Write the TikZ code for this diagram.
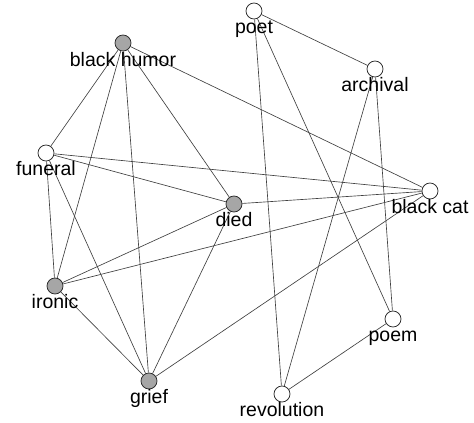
\documentclass[tikz,border=0pt]{standalone}
\usepackage{fontspec}
\setmainfont{Liberation Sans}
\begin{document}
\begin{tikzpicture}[x=1pt,y=-1pt,
  vtx/.style={circle, draw=black!85, line width=0.75pt, minimum size=16pt, inner sep=0pt},
  gv/.style={vtx, fill=black!35},
  wv/.style={vtx, fill=white},
  lbl/.style={anchor=base, font=\fontsize{19.5}{22}\selectfont, text=black, inner sep=0pt},
  edge/.style={draw=black!75, line width=0.65pt}]
\useasboundingbox (0,0) rectangle (474,423);
% vertices
\node[gv] (bh) at (123,43) {};
\node[wv] (po) at (254,11) {};
\node[wv] (ar) at (375,69) {};
\node[wv] (fu) at (46,153) {};
\node[gv] (di) at (234,204) {};
\node[wv] (bc) at (430,191) {};
\node[gv] (ir) at (55,286) {};
\node[wv] (pm) at (393,319) {};
\node[gv] (gr) at (149,381) {};
\node[wv] (re) at (282,394) {};
% edges
\path[edge] (bh) -- (fu);
\path[edge] (bh) -- (ir);
\path[edge] (bh) -- (gr);
\path[edge] (bh) -- (di);
\path[edge] (bh) -- (bc);
\path[edge] (fu) -- (di);
\path[edge] (fu) -- (bc);
\path[edge] (fu) -- (ir);
\path[edge] (fu) -- (gr);
\path[edge] (ir) -- (di);
\path[edge] (ir) -- (bc);
\path[edge] (ir) -- (gr);
\path[edge] (gr) -- (di);
\path[edge] (gr) -- (bc);
\path[edge] (di) -- (bc);
\path[edge] (po) -- (ar);
\path[edge] (po) -- (re);
\path[edge] (po) -- (pm);
\path[edge] (ar) -- (re);
\path[edge] (ar) -- (pm);
\path[edge] (pm) -- (re);
% labels
\node[lbl] (bhl) at (123,66) {black humor};
\node[lbl] (pol) at (254,33) {poet};
\node[lbl] (arl) at (375,91) {archival};
\node[lbl] (ful) at (46,175) {funeral};
\node[lbl] (dil) at (234,226) {died};
\node[lbl] (bcl) at (430,213) {black cat};
\node[lbl] (irl) at (55,308) {ironic};
\node[lbl] (pml) at (393,341) {poem};
\node[lbl] (grl) at (149,403) {grief};
\node[lbl] (rel) at (282,416) {revolution};
\end{tikzpicture}
\end{document}
